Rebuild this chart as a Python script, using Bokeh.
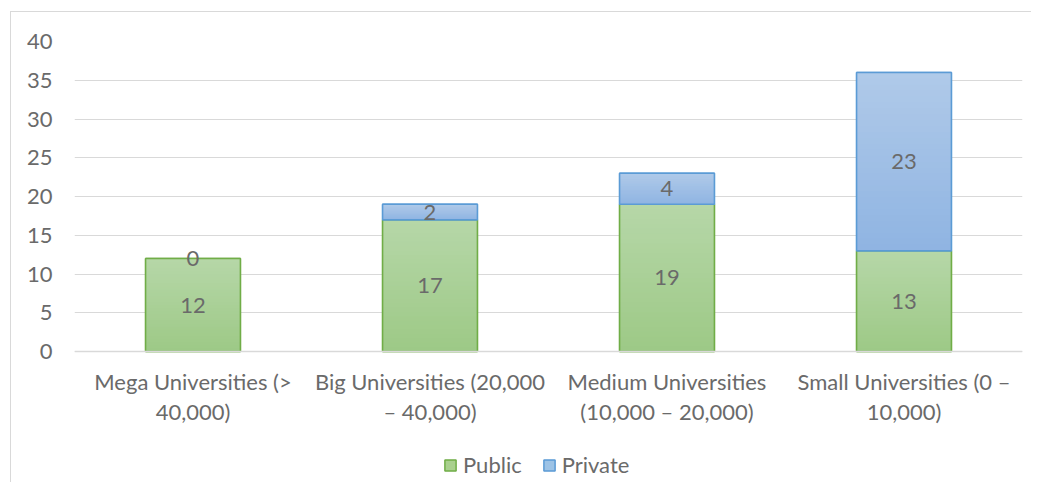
from bokeh.plotting import figure
from bokeh.models import Range1d, FixedTicker, Legend, LegendItem
from bokeh.core.properties import value
from bokeh.embed import file_html
from bokeh.resources import INLINE

categories = ["Mega Universities (>\n40,000)", "Big Universities (20,000\n– 40,000)",
              "Medium Universities\n(10,000 – 20,000)", "Small Universities (0 –\n10,000)"]
public = [12, 17, 19, 13]
private = [0, 2, 4, 23]
series_names = ["Public", "Private"]
y_ticks = [0, 5, 10, 15, 20, 25, 30, 35, 40]

FONT = "Lato"
FS = "22px"
TXT = "#6a6a6a"
N = 30
green_top, green_bot, green_mid, green_line = (182, 215, 168), (157, 201, 134), "#a9d08e", "#70ad47"
blue_top, blue_bot, blue_mid, blue_line = (176, 202, 233), (143, 180, 226), "#9dc3e6", "#5b9bd5"

# layout (pixels): plot area 310 px for 0..40, 131 px extra below for axis labels and legend
Y_MAX = 40
PLOT_PX, BELOW_PX = 310, 131
y_start = -Y_MAX * BELOW_PX / PLOT_PX


def lerp(c1, c2, t):
    return "#%02x%02x%02x" % tuple(int(round(a + (b - a) * t)) for a, b in zip(c1, c2))


p = figure(x_range=categories, y_range=Range1d(y_start, Y_MAX),
           frame_width=948, frame_height=PLOT_PX + BELOW_PX,
           output_backend="svg", toolbar_location=None,
           min_border_left=63, min_border_right=9, min_border_top=29, min_border_bottom=0)
p.styles = {"border-top": "1px solid #d9d9d9", "border-left": "1px solid #d9d9d9",
            "margin-left": "10px", "margin-top": "11px"}
p.outline_line_color = None
p.background_fill_color = "white"
p.border_fill_color = "white"

stacks = [(public, [0] * len(public), green_bot, green_top, green_mid, green_line),
          (private, public, blue_bot, blue_top, blue_mid, blue_line)]

legend_renderers = []
for vals, bases, cb, ct, cm, lc in stacks:
    xs = [c for c, v in zip(categories, vals) if v > 0]
    bt = [b for b, v in zip(bases, vals) if v > 0]
    tp = [b + v for b, v in zip(bases, vals) if v > 0]
    # solid base bar (also used for the legend swatch)
    legend_renderers.append(p.vbar(x=xs, bottom=bt, top=tp, width=0.4, fill_color=cm,
                                   line_color=lc, line_width=1.5))
    # gradient: overlapping slices derived from the data (each runs to the segment top)
    gx, gb, gt, gc = [], [], [], []
    for i in range(N):
        for c, v, b in zip(categories, vals, bases):
            if v <= 0:
                continue
            gx.append(c)
            gb.append(b + v * i / N)
            gt.append(b + v)
            gc.append(lerp(cb, ct, (i + 0.5) / N))
    p.vbar(x=gx, bottom=gb, top=gt, width=0.4, fill_color=gc, line_color=None)
    # outline on top
    p.vbar(x=xs, bottom=bt, top=tp, width=0.4, fill_color=None, line_color=lc, line_width=1.5)

# data labels
lx, ly, lt = [], [], []
for c, a, b in zip(categories, public, private):
    lx += [c, c]
    ly += [a / 2, a + b / 2]
    lt += [str(a), str(b)]
p.text(x=lx, y=ly, text=lt, text_align="center", text_baseline="middle",
       text_font=value(FONT), text_font_size=FS, text_color=TXT)

p.xgrid.grid_line_color = None
p.ygrid.grid_line_color = "#d9d9d9"
p.ygrid.grid_line_width = 1
p.yaxis.ticker = FixedTicker(ticks=y_ticks)
p.yaxis.axis_line_color = None
p.yaxis.major_tick_line_color = None
p.yaxis.minor_tick_line_color = None
p.yaxis.major_label_standoff = 16
p.xaxis.fixed_location = 0
p.xaxis.axis_line_color = "#d9d9d9"
p.xaxis.axis_line_width = 1.5
p.xaxis.major_tick_line_color = None
p.xaxis.major_label_standoff = 10
p.xaxis.major_label_text_line_height = 1.12
for ax in (p.xaxis, p.yaxis):
    ax.major_label_text_font = FONT
    ax.major_label_text_font_size = FS
    ax.major_label_text_color = TXT

legend = Legend(items=[LegendItem(label=series_names[0], renderers=[legend_renderers[0]]),
                       LegendItem(label=series_names[1], renderers=[legend_renderers[1]])],
                orientation="horizontal", location=(369, 4),
                glyph_width=14, glyph_height=14, label_height=14, label_standoff=6, spacing=20,
                padding=0, margin=0, border_line_color=None, background_fill_alpha=0,
                label_text_font=FONT, label_text_font_size=FS, label_text_color=TXT)
p.add_layout(legend, "center")

open("out.html", "w").write(file_html(p, INLINE))
